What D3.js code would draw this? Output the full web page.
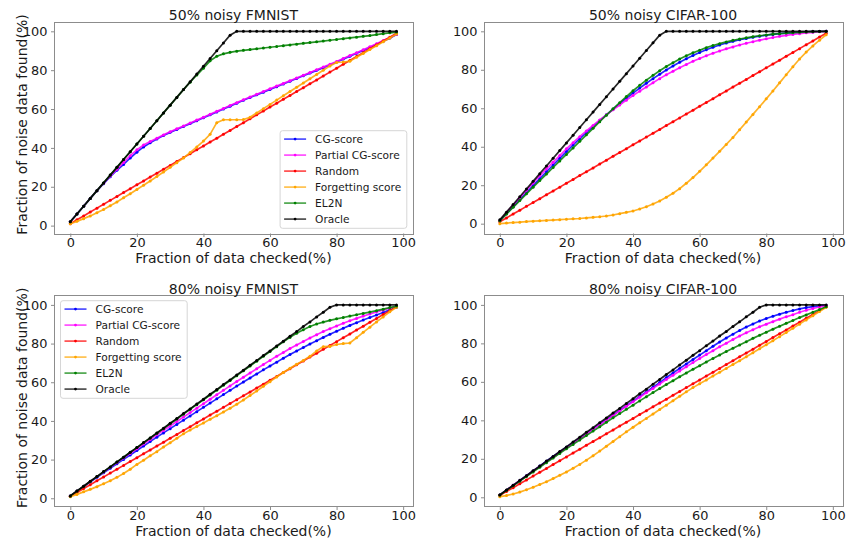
<!DOCTYPE html>
<html>
<head>
<meta charset="utf-8">
<script src="https://cdnjs.cloudflare.com/ajax/libs/d3/7.8.5/d3.min.js"></script>
<style>
  body { margin: 0; background: #fff; }
  text { font-family: "DejaVu Sans", sans-serif; fill: #1a1a1a; }
</style>
</head>
<body>
<script>
// fraction of data checked (%), one reading every 2%
var checked = [0,2,4,6,8,10,12,14,16,18, 20,22,24,26,28,30,32,34,36,38,
  40,42,44,46,48,50,52,54,56,58, 60,62,64,66,68,70,72,74,76,78,
  80,82,84,86,88,90,92,94,96,98];

var seriesNames  = ["CG-score", "Partial CG-score", "Random", "Forgetting score", "EL2N", "Oracle"];
var seriesColors = ["#0000ff", "#ff00ff", "#ff0000", "#ffa500", "#008000", "#000000"];

var xTicks = [0, 20, 40, 60, 80, 100];
var yTicks = [0, 20, 40, 60, 80, 100];

// shared by all panels
var randomFound = [1,3,5,7,9,11,13,15,17,19, 21,23,25,27,29,31,33,35,37,39,
  41,43,45,47,49,51,53,55,57,59, 61,63,65,67,69,71,73,75,77,79,
  81,83,85,87,89,91,93,95,97,99];
var oracle50 = [2,6,10,14,18,22,26,30,34,38, 42,46,50,54,58,62,66,70,74,78,
  82,86,90,94,98,100,100,100,100,100, 100,100,100,100,100,100,100,100,100,100,
  100,100,100,100,100,100,100,100,100,100];
var oracle80 = [1.2,3.8,6.2,8.8,11.2,13.8,16.2,18.8,21.2,23.8, 26.2,28.8,31.2,33.8,36.2,38.8,41.2,43.8,46.2,48.8,
  51.2,53.8,56.2,58.8,61.2,63.8,66.2,68.8,71.2,73.8, 76.2,78.8,81.2,83.8,86.2,88.8,91.2,93.8,96.2,98.8,
  100,100,100,100,100,100,100,100,100,100];

// 50% noisy FMNIST
var fm50Cg = [2,6,10,14,18,21.6,25.2,28.5,31.5,34.8, 37.8,40.5,42.6,44.6,46.4,48,49.5,51,52.5,54,
  55.5,57,58.5,60,61.5,63,64.5,65.9,67.3,68.7, 70.1,71.5,72.9,74.3,75.7,77.1,78.5,79.9,81.3,82.7,
  84.2,85.7,87.2,88.7,90.2,91.7,93.3,94.9,96.5,98.3];
var fm50Partial = [2,6,10,14,18,21.8,25.5,29,32.5,36, 39,41.5,43.3,45,46.7,48.3,49.8,51.3,52.8,54.3,
  55.8,57.3,58.8,60.3,61.8,63.3,64.8,66.2,67.6,69, 70.4,71.8,73.2,74.6,76,77.4,78.8,80.2,81.6,83,
  84.5,86,87.5,89,90.5,92,93.6,95.2,96.8,98.5];
var fm50Forget = [1,2.2,3.6,5,6.6,8.3,10.2,12.2,14.3,16.4, 18.6,20.8,23,25.3,27.6,30,32.4,34.8,37.6,40.5,
  43.5,47,53,54.5,54.5,54.5,54.6,55.8,58,60.2, 62.4,64.6,66.8,69,71.2,73.4,75.6,77.8,80,82.2,
  84,84.2,84.6,86.6,88.6,90.6,92.6,94.6,96.6,98.6];
var fm50El2n = [2,6,10,14,18,22,26,30,34,38, 42,46,50,54,58,62,66,70,73.8,77.5,
  81,84.8,87.2,88.4,89.2,89.8,90.2,90.6,91,91.4, 91.8,92.2,92.6,93,93.4,93.8,94.2,94.6,95,95.4,
  95.8,96.2,96.6,97,97.4,97.8,98.3,98.8,99.2,99.6];

// 50% noisy CIFAR-100
var cf50Cg = [1.5,5.2,8.9,12.6,16.2,19.8,23.4,27,30.5,34, 37.5,40.9,44.2,47.4,50.5,53.6,56.6,59.5,62.4,65.2,
  67.9,70.5,73,75.4,77.7,79.9,82,83.9,85.7,87.4, 89,90.4,91.7,92.9,93.9,94.8,95.6,96.3,96.9,97.5,
  98,98.4,98.8,99.1,99.3,99.5,99.7,99.8,99.9,100];
var cf50Partial = [1.5,5.6,9.6,13.5,17.4,21.2,24.9,28.5,32,35.4, 38.9,42.1,45.2,48.2,51.1,53.9,56.6,59.2,61.7,64.2,
  66.6,68.9,71.1,73.3,75.4,77.4,79.3,81.1,82.8,84.4, 85.9,87.3,88.6,89.8,90.9,91.9,92.9,93.8,94.6,95.4,
  96.1,96.8,97.4,97.9,98.4,98.8,99.2,99.5,99.8,100];
var cf50Forget = [0,0.3,0.6,0.8,1.1,1.3,1.5,1.7,1.9,2.1, 2.3,2.5,2.7,3,3.3,3.6,4,4.5,5.2,5.9,
  6.6,7.6,8.8,10.2,11.8,13.7,15.8,18.2,21,24, 27.2,30.6,34.1,37.6,41.2,44.8,48.8,52.8,56.8,60.8,
  64.9,69,73.2,77.4,81.6,85.6,89.2,92.4,95.4,98.2];
var cf50El2n = [1.5,5,8.5,12,15.5,19,22.4,25.8,29.2,32.6, 36,39.4,42.8,46.2,49.6,53,56.4,59.7,62.9,66.1,
  69.1,71.9,74.6,77.1,79.5,81.7,83.7,85.6,87.3,88.8, 90.2,91.5,92.6,93.6,94.5,95.3,96,96.6,97.2,97.7,
  98.1,98.5,98.8,99.1,99.3,99.5,99.7,99.8,99.9,100];

// 80% noisy FMNIST
var fm80Cg = [1.2,3.6,6,8.4,10.8,13.2,15.5,17.8,20.1,22.4, 24.7,27,29.3,31.6,33.8,36,38.2,40.4,42.6,44.8,
  47,49.2,51.4,53.6,55.8,58,60.1,62.2,64.3,66.4, 68.4,70.4,72.4,74.3,76.2,78,79.8,81.5,83.2,84.8,
  86.4,87.9,89.4,90.8,92.2,93.5,94.8,96.1,97.4,98.8];
var fm80Partial = [1.2,3.7,6.2,8.7,11.2,13.6,16,18.4,20.8,23.2, 25.6,28,30.4,32.8,35.1,37.4,39.7,42,44.3,46.6,
  48.9,51.2,53.5,55.8,58.1,60.4,62.6,64.8,67,69.2, 71.3,73.4,75.4,77.4,79.3,81.1,82.9,84.6,86.2,87.7,
  89.1,90.5,91.8,93,94.2,95.3,96.4,97.4,98.4,99.3];
var fm80Forget = [0.8,2,3.3,4.6,6,7.5,9,10.8,12.8,15, 17.5,19.7,22,24.1,26.5,28.7,31,33.3,35.3,37.1,
  38.9,40.8,42.7,44.6,46.6,48.6,50.8,53.1,55.5,57.9, 60.3,62.7,65,67.2,69.3,71.3,73.4,76.2,78.4,78.5,
  79.5,80,80.3,83,85.8,88.5,91.2,93.8,96.4,98.8];
var fm80El2n = [1.2,3.7,6.2,8.7,11.2,13.7,16.2,18.7,21.2,23.7, 26.2,28.7,31.1,33.6,36,38.5,41,43.5,46,48.4,
  50.9,53.4,55.9,58.4,60.9,63.4,65.9,68.4,70.9,73.4, 75.9,78.4,80.9,83.2,85.3,87.2,88.8,90.1,91.1,92,
  92.8,93.5,94.2,94.9,95.6,96.3,97,97.8,98.6,99.4];

// 80% noisy CIFAR-100
var cf80Cg = [1.2,3.7,6.2,8.7,11.2,13.7,16.2,18.7,21.2,23.6, 26,28.4,30.8,33.2,35.6,38,40.4,42.8,45.2,47.6,
  50,52.4,54.8,57.2,59.6,62.2,64.6,67,69.3,71.6, 73.9,76.2,78.5,80.7,82.8,84.8,86.7,88.5,90.1,91.6,
  92.9,94.1,95.2,96.2,97.1,97.9,98.6,99.1,99.5,99.8];
var cf80Partial = [1.2,3.7,6.2,8.6,11.1,13.5,16,18.4,20.9,23.3, 25.7,28.1,30.5,32.9,35.3,37.7,40.1,42.5,44.9,47.3,
  49.7,52,54.3,56.6,58.9,61.2,63.4,65.6,67.8,70, 72.1,74.2,76.2,78.2,80.1,82,83.8,85.5,87.1,88.6,
  90,91.3,92.6,93.8,94.9,96.2,97.2,98.1,98.9,99.5];
var cf80Forget = [0.3,0.9,1.7,2.7,3.9,5.2,6.6,8.1,9.7,11.4, 13.2,15.1,17.1,19.3,21.6,24,26.5,29,31.5,34,
  36.4,38.7,41,43.3,45.6,47.9,50.2,52.5,54.8,57, 59,61,63,65,67,69,71,73,75.1,77.2,
  79.3,81.4,83.5,85.6,87.8,90,92.2,94.4,96.6,98.8];
var cf80El2n = [1.2,3.6,6,8.4,10.8,13.2,15.6,18,20.4,22.8, 25.2,27.5,29.8,32.1,34.4,36.7,39,41.3,43.5,45.7,
  47.9,50.1,52.3,54.4,56.5,58.6,60.6,62.6,64.6,66.5, 68.4,70.3,72.2,74,75.8,77.5,79.2,80.9,82.6,84.2,
  85.8,87.4,88.9,90.4,91.9,93.4,94.8,96.2,97.6,99];

var width = 847, height = 538;
var leftBox = [54, 412.8], rightBox = [483.5, 842.5];
var topBox = [21.7, 233.3], bottomBox = [295.3, 506.3];

var panels = [
  {title: "50% noisy FMNIST", xr: leftBox, yr: topBox, ylabel: true, legend: "lower right",
   series: [fm50Cg, fm50Partial, randomFound, fm50Forget, fm50El2n, oracle50]},
  {title: "50% noisy CIFAR-100", xr: rightBox, yr: topBox, ylabel: false, legend: null,
   series: [cf50Cg, cf50Partial, randomFound, cf50Forget, cf50El2n, oracle50]},
  {title: "80% noisy FMNIST", xr: leftBox, yr: bottomBox, ylabel: true, legend: "upper left",
   series: [fm80Cg, fm80Partial, randomFound, fm80Forget, fm80El2n, oracle80]},
  {title: "80% noisy CIFAR-100", xr: rightBox, yr: bottomBox, ylabel: false, legend: null,
   series: [cf80Cg, cf80Partial, randomFound, cf80Forget, cf80El2n, oracle80]}
];

var svg = d3.select("body").append("svg")
  .attr("width", width)
  .attr("height", height);

// matplotlib style 5% margins around the data
function padded(ext) {
  var m = (ext[1] - ext[0]) * 0.05;
  return [ext[0] - m, ext[1] + m];
}

panels.forEach(function(p) {
  var x = d3.scaleLinear().domain(padded(d3.extent(checked))).range(p.xr);
  var yExt = d3.extent(d3.merge(p.series));
  var y = d3.scaleLinear().domain(padded(yExt)).range([p.yr[1], p.yr[0]]);

  var g = svg.append("g");

  // plot lines + little dot markers
  p.series.forEach(function(vals, k) {
    var pts = vals.map(function(v, i) { return [checked[i], v]; });
    var line = d3.line()
      .x(function(d) { return x(d[0]); })
      .y(function(d) { return y(d[1]); });
    g.append("path")
      .attr("d", line(pts))
      .attr("fill", "none")
      .attr("stroke", seriesColors[k])
      .attr("stroke-width", 1.7)
      .attr("stroke-opacity", 0.85);
    g.selectAll(null).data(pts).enter().append("circle")
      .attr("cx", function(d) { return x(d[0]); })
      .attr("cy", function(d) { return y(d[1]); })
      .attr("r", 1.5)
      .attr("fill", seriesColors[k]);
  });

  // frame
  g.append("rect")
    .attr("x", Math.round(p.xr[0]) + 0.5)
    .attr("y", Math.round(p.yr[0]) + 0.5)
    .attr("width", Math.round(p.xr[1] - p.xr[0]))
    .attr("height", Math.round(p.yr[1] - p.yr[0]))
    .attr("fill", "none")
    .attr("stroke", "#8c8c8c")
    .attr("stroke-width", 1);

  var xAxis = g.append("g")
    .attr("transform", "translate(0," + (Math.round(p.yr[1]) + 0.5) + ")")
    .call(d3.axisBottom(x).tickValues(xTicks).tickSize(3.5).tickPadding(0.5));
  var yAxis = g.append("g")
    .attr("transform", "translate(" + (Math.round(p.xr[0]) + 0.5) + ",0)")
    .call(d3.axisLeft(y).tickValues(yTicks).tickSize(3.5).tickPadding(3.5));
  [xAxis, yAxis].forEach(function(a) {
    a.select(".domain").remove();
    a.selectAll(".tick line").attr("stroke", "#8c8c8c");
    a.selectAll(".tick text")
      .attr("fill", "#1a1a1a")
      .style("font-family", "DejaVu Sans, sans-serif")
      .style("font-size", "12.9px");
  });

  var cx = (p.xr[0] + p.xr[1]) / 2;
  g.append("text")
    .attr("x", cx).attr("y", p.yr[0] - 1.8)
    .attr("text-anchor", "middle")
    .style("font-size", "14px")
    .text(p.title);

  g.append("text")
    .attr("x", cx).attr("y", p.yr[1] + 30)
    .attr("text-anchor", "middle")
    .style("font-size", "14px")
    .text("Fraction of data checked(%)");

  if (p.ylabel) {
    var cy = (p.yr[0] + p.yr[1]) / 2 - 3;
    g.append("text")
      .attr("transform", "translate(" + (p.xr[0] - 27.5) + "," + cy + ") rotate(-90)")
      .attr("text-anchor", "middle")
      .style("font-size", "14px")
      .text("Fraction of noise data found(%)");
  }

  if (p.legend) {
    var lw = 126.7, lh = 97.6;
    var lx = p.legend === "lower right" ? p.xr[1] - 6 - lw : p.xr[0] + 6.5;
    var ly = p.legend === "lower right" ? p.yr[1] - 5 - lh : p.yr[0] + 5.4;
    var lg = g.append("g").attr("transform", "translate(" + lx + "," + ly + ")");
    lg.append("rect")
      .attr("width", lw).attr("height", lh)
      .attr("rx", 2.5)
      .attr("fill", "#fff").attr("fill-opacity", 0.8)
      .attr("stroke", "#d6d6d6");
    var rows = lg.selectAll(".row").data(seriesNames).enter().append("g")
      .attr("transform", function(d, i) { return "translate(0," + (8.4 + i * 16) + ")"; });
    rows.append("line")
      .attr("x1", 4).attr("x2", 26)
      .attr("stroke", function(d, i) { return seriesColors[i]; })
      .attr("stroke-width", 1.7)
      .attr("stroke-opacity", 0.7);
    rows.append("circle")
      .attr("cx", 15).attr("r", 1.4)
      .attr("fill", function(d, i) { return seriesColors[i]; });
    rows.append("text")
      .attr("x", 35).attr("dy", "0.35em")
      .style("font-size", "10.6px")
      .text(function(d) { return d; });
  }
});
</script>
</body>
</html>
